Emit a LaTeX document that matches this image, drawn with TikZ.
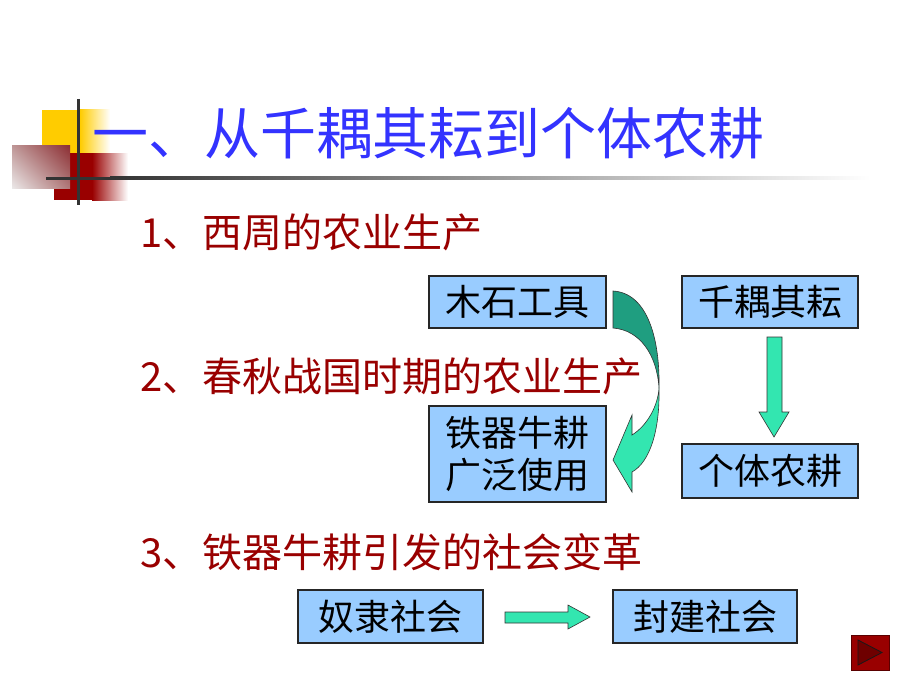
\documentclass[tikz,border=0pt]{standalone}
\usepackage{fontspec}
\setmainfont{Noto Sans CJK SC}
\usetikzlibrary{calc,shadings}
\definecolor{boxblue}{HTML}{99CCFF}
\definecolor{titleblue}{HTML}{3333FF}
\definecolor{subred}{HTML}{990000}
\definecolor{arrowlight}{HTML}{33E6B0}
\definecolor{arrowdark}{HTML}{1F9E80}
\definecolor{decoyellow}{HTML}{FFCC00}
\definecolor{decored}{HTML}{990000}
\definecolor{linegray}{HTML}{333333}
\definecolor{gUL}{RGB}{190,150,150}
\definecolor{gUR}{RGB}{140,45,50}
\definecolor{gLL}{RGB}{235,232,232}
\definecolor{gLR}{RGB}{175,120,120}
\definecolor{btnborder}{RGB}{90,0,0}
\definecolor{btntri}{RGB}{110,0,0}
\begin{document}
\begin{tikzpicture}[x=1pt,y=-1pt,
  infobox/.style={draw=black!85, fill=boxblue, line width=1.1pt, inner sep=0pt,
    font=\fontsize{36}{42}\selectfont, align=center},
  subhead/.style={anchor=west, inner sep=0pt, text=subred, font=\fontsize{40}{44}\selectfont},
  blockarrow/.style={fill=arrowlight, draw=black!80, line width=0.6pt, line join=miter}
]
\useasboundingbox (0,0) rectangle (920,690);
\fill[white] (0,0) rectangle (920,690);

% decoration
\fill[decoyellow] (42,110) rectangle (80,153);
\shade[left color=decoyellow, right color=white] (80,110) rectangle (110,153);
\fill[decored] (54,153) rectangle (92,200);
\shade[left color=decored, right color=white] (92,153) rectangle (128,200);
\shade[upper left=gUL, upper right=gUR, lower left=gLL, lower right=gLR]
  (12,145) rectangle (70,188);
\draw[linegray, line width=3pt] (78,99) -- (78,205);
\fill[linegray] (46,176.5) rectangle (110,179.5);
\shade[left color=linegray, middle color=black!28, right color=white] (110,176.5) rectangle (870,179.5);

% title
\node[anchor=west, inner sep=0pt, text=titleblue, font=\fontsize{56}{60}\selectfont] (title) at (92,133) {一、从千耦其耘到个体农耕};

% sub headings
\node[subhead] (s1) at (140,232) {1、西周的农业生产};
\node[subhead] (s2) at (140,376) {2、春秋战国时期的农业生产};
\node[subhead] (s3) at (140,552) {3、铁器牛耕引发的社会变革};

% boxes
\node[infobox, minimum width=177pt, minimum height=52pt] (mushi) at (517.5,302) {木石工具};
\node[infobox, minimum width=176pt, minimum height=52pt] (qian) at (770,302) {千耦其耘};
\node[infobox, minimum width=177pt, minimum height=96pt] (tie) at (517.5,454) {铁器牛耕\\[0pt]广泛使用};
\node[infobox, minimum width=176pt, minimum height=54pt] (geti) at (770,471) {个体农耕};
\node[infobox, minimum width=185pt, minimum height=53pt] (nuli) at (390.5,616.5) {奴隶社会};
\node[infobox, minimum width=184pt, minimum height=53pt] (feng) at (705,616.5) {封建社会};

% curved arrow from mushi to tie
\fill[arrowdark, draw=black!80, line width=0.6pt]
  (613,291) .. controls (648,293) and (660,340) .. (659,388)
  .. controls (657,355) and (640,330) .. (613,328) -- cycle;
\fill[arrowlight, draw=black!80, line width=0.6pt, line join=miter]
  (659,388) .. controls (660,430) and (650,462) .. (632,472)
  -- (632,492) -- (613,460) -- (632,415) -- (632,435)
  .. controls (648,425) and (658,405) .. (659,388) -- cycle;

% straight down arrow qian -> geti
\path[blockarrow] (767,337) -- (782,337) -- (782,412) -- (789,412) -- (774,437)
  -- (759,412) -- (767,412) -- cycle;

% right arrow nuli -> feng
\path[blockarrow] (505,612) -- (568,612) -- (568,605) -- (590,617) -- (568,629)
  -- (568,623) -- (505,623) -- cycle;

% button
\node[draw=btnborder, fill=decored, line width=1pt, minimum width=38pt, minimum height=35pt, inner sep=0pt] (btn) at (870,652.5) {};
\fill[btntri, draw=black!90, line width=0.8pt] (858,640) -- (882,652.5) -- (858,665) -- cycle;
\end{tikzpicture}
\end{document}
